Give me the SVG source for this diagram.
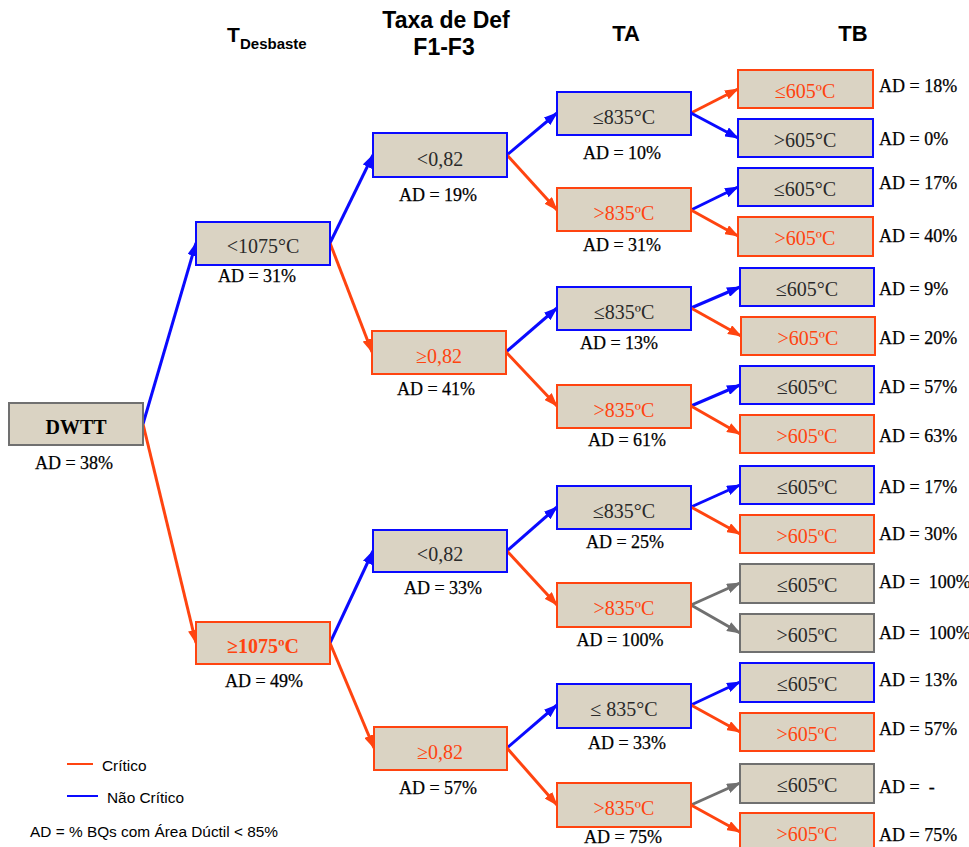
<svg xmlns="http://www.w3.org/2000/svg" width="969" height="847" viewBox="0 0 969 847">
<style>
.n rect{fill:#dad3c3;stroke-width:2}
.b rect{stroke:#0a0aff}
.r rect{stroke:#ff4410}
.g rect{stroke:#707070}
.t{font-family:"Liberation Serif","Times New Roman",serif;font-size:20px;text-anchor:middle;fill:#2a2a2a}
.r .t{fill:#ff4410}
.ad{font-family:"Liberation Serif","Times New Roman",serif;font-size:18px;fill:#000;stroke:#000;stroke-width:0.25;white-space:pre}
.c{text-anchor:middle}
.h{font-family:"Liberation Sans",Arial,sans-serif;font-weight:bold;fill:#000}
.lg{font-family:"Liberation Sans",Arial,sans-serif;font-size:15.4px;fill:#000}
.eb{stroke:#0a0aff;stroke-width:3;fill:none;marker-end:url(#ab)}
.er{stroke:#ff4410;stroke-width:3;fill:none;marker-end:url(#ar)}
.eg{stroke:#707070;stroke-width:3;fill:none;marker-end:url(#ag)}
</style>
<defs>
<marker id="ab" markerUnits="userSpaceOnUse" markerWidth="14" markerHeight="10" refX="13" refY="5" orient="auto"><path d="M0,0 L14,5 L0,10 z" fill="#0a0aff"/></marker>
<marker id="ar" markerUnits="userSpaceOnUse" markerWidth="14" markerHeight="10" refX="13" refY="5" orient="auto"><path d="M0,0 L14,5 L0,10 z" fill="#ff4410"/></marker>
<marker id="ag" markerUnits="userSpaceOnUse" markerWidth="14" markerHeight="10" refX="13" refY="5" orient="auto"><path d="M0,0 L14,5 L0,10 z" fill="#707070"/></marker>
</defs>
<rect width="969" height="847" fill="#fff"/>
<g id="headers">
<text class="h" x="227" y="42" font-size="21">T</text>
<text class="h" x="240" y="49" font-size="15">Desbaste</text>
<text class="h" x="446" y="28" font-size="23" text-anchor="middle">Taxa de Def</text>
<text class="h" x="444" y="55" font-size="23" text-anchor="middle">F1-F3</text>
<text class="h" x="626" y="41" font-size="22" text-anchor="middle">TA</text>
<text class="h" x="853" y="41" font-size="22" text-anchor="middle">TB</text>
</g>
<g id="connectors">
<line class="eb" x1="143" y1="424" x2="196" y2="243"/>
<line class="er" x1="143" y1="424" x2="196" y2="643"/>
<line class="eb" x1="330" y1="243" x2="373" y2="155"/>
<line class="er" x1="330" y1="243" x2="372" y2="352"/>
<line class="eb" x1="330" y1="643" x2="373" y2="551"/>
<line class="er" x1="330" y1="643" x2="374" y2="748"/>
<line class="eb" x1="507" y1="155" x2="557" y2="113"/>
<line class="er" x1="507" y1="155" x2="557" y2="210"/>
<line class="eb" x1="506" y1="352" x2="557" y2="308"/>
<line class="er" x1="506" y1="352" x2="557" y2="406"/>
<line class="eb" x1="507" y1="551" x2="557" y2="507"/>
<line class="er" x1="507" y1="551" x2="557" y2="605"/>
<line class="eb" x1="507" y1="748" x2="557" y2="705"/>
<line class="er" x1="507" y1="748" x2="557" y2="805"/>
<line class="er" x1="691" y1="113" x2="738" y2="89"/>
<line class="eb" x1="691" y1="113" x2="738" y2="138"/>
<line class="eb" x1="691" y1="210" x2="738" y2="187"/>
<line class="er" x1="691" y1="210" x2="738" y2="236"/>
<line class="eb" x1="691" y1="308" x2="740" y2="287"/>
<line class="er" x1="691" y1="308" x2="741" y2="336"/>
<line class="eb" x1="691" y1="406" x2="740" y2="385"/>
<line class="er" x1="691" y1="406" x2="740" y2="434"/>
<line class="eb" x1="691" y1="507" x2="740" y2="485"/>
<line class="er" x1="691" y1="507" x2="740" y2="534"/>
<line class="eg" x1="691" y1="605" x2="740" y2="583"/>
<line class="eg" x1="691" y1="605" x2="740" y2="633"/>
<line class="eb" x1="691" y1="705" x2="740" y2="682"/>
<line class="er" x1="691" y1="705" x2="740" y2="732"/>
<line class="eg" x1="691" y1="805" x2="740" y2="783"/>
<line class="er" x1="691" y1="805" x2="740" y2="832"/>
</g>
<g id="n-dwtt" class="n g"><rect x="9" y="403" width="134" height="42"/><text class="t" x="76" y="434" font-weight="bold" style="fill:#000">DWTT</text><text class="ad c" x="74" y="469">AD = 38%</text></g>
<g id="n-t1" class="n b"><rect x="196" y="222" width="134" height="43"/><text class="t" x="263" y="253">&lt;1075°C</text><text class="ad c" x="257" y="282">AD = 31%</text></g>
<g id="n-t2" class="n r"><rect x="196" y="622" width="134" height="42"/><text class="t" x="263" y="653" font-weight="bold">≥1075ºC</text><text class="ad c" x="264" y="687">AD = 49%</text></g>
<g id="n-d1" class="n b"><rect x="373" y="133" width="134" height="44"/><text class="t" x="440" y="166">&lt;0,82</text><text class="ad c" x="438" y="201">AD = 19%</text></g>
<g id="n-d2" class="n r"><rect x="372" y="331" width="134" height="43"/><text class="t" x="439" y="363">≥0,82</text><text class="ad c" x="436" y="395">AD = 41%</text></g>
<g id="n-d3" class="n b"><rect x="373" y="530" width="134" height="42"/><text class="t" x="440" y="561">&lt;0,82</text><text class="ad c" x="443" y="594">AD = 33%</text></g>
<g id="n-d4" class="n r"><rect x="374" y="727" width="133" height="43"/><text class="t" x="440" y="759">≥0,82</text><text class="ad c" x="438" y="794">AD = 57%</text></g>
<g id="n-a1" class="n b"><rect x="557" y="92" width="134" height="43"/><text class="t" x="624" y="124">≤835°C</text><text class="ad c" x="622" y="159">AD = 10%</text></g>
<g id="n-a2" class="n r"><rect x="557" y="188" width="134" height="43"/><text class="t" x="624" y="220">&gt;835ºC</text><text class="ad c" x="622" y="251">AD = 31%</text></g>
<g id="n-a3" class="n b"><rect x="557" y="287" width="134" height="43"/><text class="t" x="624" y="319">≤835ºC</text><text class="ad c" x="619" y="349">AD = 13%</text></g>
<g id="n-a4" class="n r"><rect x="557" y="385" width="134" height="43"/><text class="t" x="624" y="417">&gt;835ºC</text><text class="ad c" x="627" y="446">AD = 61%</text></g>
<g id="n-a5" class="n b"><rect x="557" y="486" width="134" height="43"/><text class="t" x="624" y="518">≤835°C</text><text class="ad c" x="625" y="548">AD = 25%</text></g>
<g id="n-a6" class="n r"><rect x="557" y="583" width="134" height="44"/><text class="t" x="624" y="615">&gt;835ºC</text><text class="ad c" x="620" y="646">AD = 100%</text></g>
<g id="n-a7" class="n b"><rect x="557" y="684" width="134" height="44"/><text class="t" x="624" y="716">≤ 835°C</text><text class="ad c" x="627" y="749">AD = 33%</text></g>
<g id="n-a8" class="n r"><rect x="557" y="783" width="134" height="44"/><text class="t" x="624" y="815">&gt;835ºC</text><text class="ad c" x="623" y="843">AD = 75%</text></g>
<g id="n-b1" class="n r"><rect x="738" y="70" width="135" height="38"/><text class="t" x="805" y="98">≤605ºC</text><text class="ad" x="879" y="92">AD = 18%</text></g>
<g id="n-b2" class="n b"><rect x="738" y="119" width="135" height="38"/><text class="t" x="805" y="147">&gt;605°C</text><text class="ad" x="879" y="145">AD = 0%</text></g>
<g id="n-b3" class="n b"><rect x="738" y="168" width="135" height="38"/><text class="t" x="805" y="196">≤605°C</text><text class="ad" x="879" y="189">AD = 17%</text></g>
<g id="n-b4" class="n r"><rect x="738" y="217" width="135" height="39"/><text class="t" x="805" y="245">&gt;605ºC</text><text class="ad" x="879" y="242">AD = 40%</text></g>
<g id="n-b5" class="n b"><rect x="740" y="268" width="134" height="38"/><text class="t" x="807" y="296">≤605°C</text><text class="ad" x="879" y="295">AD = 9%</text></g>
<g id="n-b6" class="n r"><rect x="741" y="317" width="134" height="38"/><text class="t" x="808" y="345">&gt;605ºC</text><text class="ad" x="879" y="344">AD = 20%</text></g>
<g id="n-b7" class="n b"><rect x="740" y="366" width="134" height="38"/><text class="t" x="807" y="394">≤605ºC</text><text class="ad" x="879" y="393">AD = 57%</text></g>
<g id="n-b8" class="n r"><rect x="740" y="415" width="134" height="38"/><text class="t" x="807" y="443">&gt;605ºC</text><text class="ad" x="879" y="442">AD = 63%</text></g>
<g id="n-b9" class="n b"><rect x="740" y="466" width="134" height="38"/><text class="t" x="807" y="494">≤605ºC</text><text class="ad" x="879" y="493">AD = 17%</text></g>
<g id="n-b10" class="n r"><rect x="740" y="515" width="134" height="38"/><text class="t" x="807" y="543">&gt;605ºC</text><text class="ad" x="879" y="540">AD = 30%</text></g>
<g id="n-b11" class="n g"><rect x="740" y="564" width="134" height="39"/><text class="t" x="807" y="592">≤605ºC</text><text class="ad" x="879" y="588">AD =  100%</text></g>
<g id="n-b12" class="n g"><rect x="740" y="614" width="134" height="38"/><text class="t" x="807" y="642">&gt;605ºC</text><text class="ad" x="879" y="639">AD =  100%</text></g>
<g id="n-b13" class="n b"><rect x="740" y="663" width="134" height="39"/><text class="t" x="807" y="691">≤605ºC</text><text class="ad" x="879" y="686">AD = 13%</text></g>
<g id="n-b14" class="n r"><rect x="740" y="713" width="134" height="38"/><text class="t" x="807" y="741">&gt;605ºC</text><text class="ad" x="879" y="735">AD = 57%</text></g>
<g id="n-b15" class="n g"><rect x="740" y="764" width="134" height="39"/><text class="t" x="807" y="792">≤605ºC</text><text class="ad" x="879" y="793">AD =  -</text></g>
<g id="n-b16" class="n r"><rect x="740" y="813" width="134" height="40"/><text class="t" x="807" y="841">&gt;605ºC</text><text class="ad" x="879" y="841">AD = 75%</text></g>
<g id="legend">
<line x1="67" y1="764" x2="93" y2="764" stroke="#ff4410" stroke-width="2"/>
<text class="lg" x="102" y="771">Crítico</text>
<line x1="67" y1="796" x2="98" y2="796" stroke="#0a0aff" stroke-width="2"/>
<text class="lg" x="107" y="803">Não Crítico</text>
<text class="lg" x="30" y="837">AD = % BQs com Área Dúctil &lt; 85%</text>
</g>
</svg>
